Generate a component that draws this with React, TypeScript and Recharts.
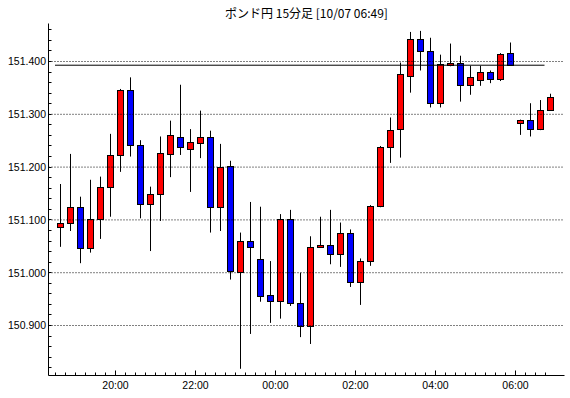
import React from "react";
import { ComposedChart, Bar, XAxis, YAxis, ReferenceLine } from "recharts";

// 15-minute GBP/JPY candles, oldest first
const opens = [
  151.086, 151.094, 151.124, 151.046, 151.101, 151.162, 151.222, 151.345, 151.241, 151.13,
  151.149, 151.224, 151.257, 151.234, 151.245, 151.257, 151.124, 151.201, 151.0, 151.06,
  151.025, 150.957, 150.946, 151.101, 150.942, 150.899, 151.048, 151.052, 151.035, 151.075,
  150.982, 151.021, 151.126, 151.238, 151.272, 151.372, 151.442, 151.419, 151.321, 151.393,
  151.397, 151.354, 151.364, 151.38, 151.365, 151.415, 151.282, 151.289, 151.272, 151.308,
];
const highs = [
  151.168, 151.225, 151.144, 151.176, 151.182, 151.263, 151.348, 151.37, 151.251, 151.163,
  151.258, 151.288, 151.356, 151.272, 151.307, 151.269, 151.244, 151.212, 151.076, 151.134,
  151.125, 151.022, 151.111, 151.119, 151.0, 151.069, 151.106, 151.119, 151.095, 151.082,
  151.027, 151.128, 151.24, 151.294, 151.398, 151.456, 151.458, 151.445, 151.413, 151.434,
  151.411, 151.392, 151.392, 151.383, 151.416, 151.436, 151.29, 151.321, 151.327, 151.339,
];
const lows = [
  151.049, 151.079, 151.018, 151.038, 151.064, 151.106, 151.191, 151.22, 151.103, 151.041,
  151.098, 151.181, 151.223, 151.153, 151.217, 151.076, 151.079, 150.987, 150.818, 150.884,
  150.945, 150.905, 150.913, 150.937, 150.878, 150.865, 151.047, 151.016, 151.011, 150.973,
  150.939, 151.013, 151.124, 151.208, 151.218, 151.341, 151.383, 151.313, 151.313, 151.391,
  151.324, 151.337, 151.354, 151.359, 151.363, 151.393, 151.261, 151.258, 151.27, 151.307,
];
const closes = [
  151.094, 151.124, 151.046, 151.101, 151.162, 151.222, 151.346, 151.241, 151.13, 151.149,
  151.225, 151.259, 151.238, 151.247, 151.257, 151.124, 151.2, 151.002, 151.06, 151.048,
  150.954, 150.946, 151.101, 150.942, 150.899, 151.048, 151.052, 151.035, 151.075, 150.982,
  151.021, 151.126, 151.238, 151.27, 151.375, 151.442, 151.419, 151.321, 151.395, 151.397,
  151.354, 151.369, 151.38, 151.365, 151.414, 151.393, 151.289, 151.272, 151.308, 151.331,
];

const timeLabels = ["20:00", "22:00", "00:00", "02:00", "04:00", "06:00"];
const priceLabels = [150.9, 151.0, 151.1, 151.2, 151.3, 151.4];
const markPrice = 151.393;

const data = opens.map((o, i) => ({
  i,
  o,
  h: highs[i],
  l: lows[i],
  c: closes[i],
  range: [lows[i], highs[i]],
}));

// one minor tick per candle, a labelled one every 2 hours (8 candles)
const xTicks = opens.map((_, k) => k - 0.5);
const xMajor = timeLabels.map((_, k) => 5.5 + k * 8);
const yTicks = Array.from({ length: 33 }, (_, k) => +(150.82 + k * 0.02).toFixed(2));

const X_DOMAIN: [number, number] = [-1.2, 50.4];
const Y_DOMAIN: [number, number] = [150.8053, 151.472];
const FONT = "'Liberation Sans', Arial, sans-serif";

const crisp = (v: number) => Math.floor(v) + 0.5;

function Candle(props: any) {
  const { x, y, width, height, payload } = props;
  const { o, h, l, c } = payload;
  const cx = crisp(x + width / 2);
  const py = (v: number) => y + ((h - v) / (h - l)) * height;
  const top = crisp(py(Math.max(o, c)));
  const bot = Math.max(crisp(py(Math.min(o, c))), top + 1);
  return (
    <g>
      <line x1={cx} x2={cx} y1={py(h)} y2={py(l)} stroke="#000" strokeWidth={1} />
      <rect
        x={cx - 3}
        y={top}
        width={6}
        height={bot - top}
        fill={c >= o ? "#ff0000" : "#0000ff"}
        stroke="#000"
        strokeWidth={1}
      />
    </g>
  );
}

function majorIndex(v: number) {
  return xMajor.findIndex((m) => Math.abs(m - v) < 1e-6);
}

function BottomTick(props: any) {
  const { x, y, payload } = props;
  const k = majorIndex(payload.value);
  const xx = crisp(x);
  return (
    <g>
      <line x1={xx} x2={xx} y1={y} y2={y - (k >= 0 ? 5 : 3)} stroke="#000" />
      {k >= 0 && (
        <text x={x} y={y + 13.5} textAnchor="middle" fontSize={10.5} fontFamily={FONT} fill="#000">
          {timeLabels[k]}
        </text>
      )}
    </g>
  );
}

function TopTick(props: any) {
  const { x, y, payload } = props;
  const k = majorIndex(payload.value);
  const xx = crisp(x);
  return <line x1={xx} x2={xx} y1={y} y2={y + (k >= 0 ? 5 : 3)} stroke="#000" />;
}

function LeftTick(props: any) {
  const { x, y, payload } = props;
  const v = payload.value;
  const major = priceLabels.some((p) => Math.abs(p - v) < 1e-6);
  const yy = crisp(y);
  return (
    <g>
      <line x1={x} x2={x + 3} y1={yy} y2={yy} stroke="#000" />
      {major && (
        <text x={x - 2.5} y={y + 3.8} textAnchor="end" fontSize={10.5} fontFamily={FONT} fill="#000">
          {v.toFixed(3)}
        </text>
      )}
    </g>
  );
}

function RightTick(props: any) {
  const { x, y } = props;
  const yy = crisp(y);
  return <line x1={x} x2={x - 3} y1={yy} y2={yy} stroke="#000" />;
}

export default function App() {
  return (
    <div style={{ position: "absolute", left: 0, top: 0, width: 570, height: 398, background: "#fff" }}>
      <div
        style={{
          position: "absolute",
          left: 306.5,
          top: 4.5,
          transform: "translateX(-50%)",
          whiteSpace: "nowrap",
          fontSize: 12,
          lineHeight: "16px",
          fontFamily: "'Noto Sans CJK JP', sans-serif",
          color: "#000",
        }}
      >
        ポンド円 15分足 [10/07 06:49]
      </div>
      <ComposedChart
        width={570}
        height={398}
        data={data}
        margin={{ top: 23.5, right: 5.5, bottom: 0, left: 0 }}
      >
        <XAxis
          xAxisId="b"
          dataKey="i"
          type="number"
          domain={X_DOMAIN}
          allowDataOverflow
          ticks={xTicks}
          interval={0}
          tickSize={0}
          tickMargin={0}
          tickLine={false}
          tick={(p: any) => <BottomTick {...p} />}
          axisLine={{ stroke: "#000" }}
          height={22.5}
        />
        <XAxis
          xAxisId="t"
          orientation="top"
          type="number"
          dataKey="i"
          domain={X_DOMAIN}
          allowDataOverflow
          ticks={xTicks}
          interval={0}
          tickSize={0}
          tickMargin={0}
          tickLine={false}
          tick={(p: any) => <TopTick {...p} />}
          axisLine={{ stroke: "#000" }}
          height={0}
        />
        <YAxis
          yAxisId="l"
          type="number"
          domain={Y_DOMAIN}
          allowDataOverflow
          ticks={yTicks}
          interval={0}
          tickSize={0}
          tickMargin={0}
          tickLine={false}
          tick={(p: any) => <LeftTick {...p} />}
          axisLine={{ stroke: "#000" }}
          width={48.5}
        />
        <YAxis
          yAxisId="r"
          orientation="right"
          type="number"
          domain={Y_DOMAIN}
          allowDataOverflow
          ticks={yTicks}
          interval={0}
          tickSize={0}
          tickMargin={0}
          tickLine={false}
          tick={(p: any) => <RightTick {...p} />}
          axisLine={{ stroke: "#000" }}
          width={0}
        />
        {priceLabels.map((v) => (
          <ReferenceLine
            key={v}
            xAxisId="b"
            yAxisId="l"
            y={v}
            stroke="#000"
            strokeDasharray="1 2"
          />
        ))}
        <ReferenceLine
          xAxisId="b"
          yAxisId="l"
          segment={[
            { x: -0.55, y: markPrice },
            { x: 48.4, y: markPrice },
          ]}
          stroke="#000"
        />
        <Bar
          xAxisId="b"
          yAxisId="l"
          dataKey="range"
          barSize={8}
          shape={(p: any) => <Candle {...p} />}
          isAnimationActive={false}
        />
      </ComposedChart>
    </div>
  );
}
